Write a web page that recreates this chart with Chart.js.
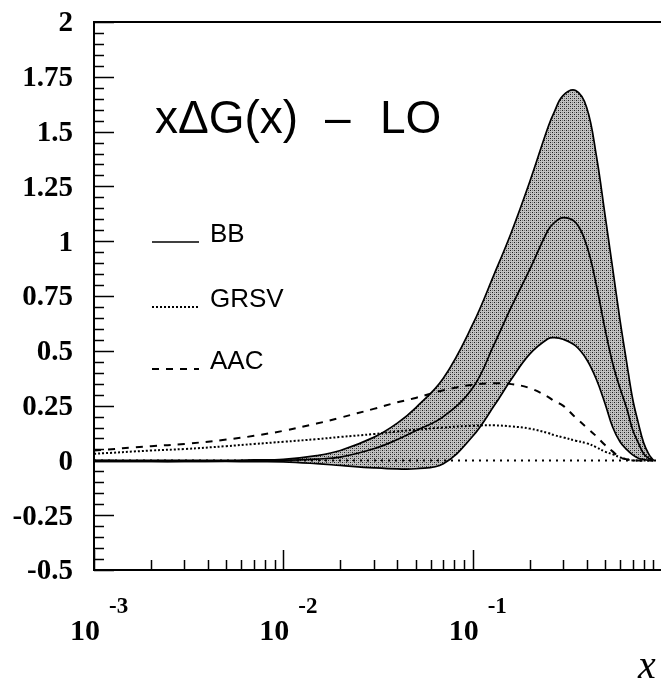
<!DOCTYPE html>
<html>
<head>
<meta charset="utf-8">
<script src="https://cdn.jsdelivr.net/npm/chart.js@4"></script>
<style>
  html, body { margin: 0; padding: 0; background: #fff; overflow: hidden; }
  #wrap { width: 661px; height: 679px; overflow: hidden; }
</style>
</head>
<body>
<div id="wrap"><canvas id="gluon" width="700" height="679"></canvas></div>
<script>
// x grid (log scale) and the LO polarized gluon curves
const xValues = [0.001, 0.002, 0.003, 0.005, 0.007, 0.01, 0.015, 0.02, 0.03, 0.04, 0.05, 0.07,
    0.1, 0.13, 0.16, 0.2, 0.25, 0.27, 0.3, 0.35, 0.4, 0.45, 0.5, 0.55, 0.6, 0.65, 0.7, 0.75, 0.8, 0.85, 0.9]

const bbUpper = [0, 0, 0, 0, 0.002, 0.005, 0.022, 0.045, 0.105, 0.17, 0.24, 0.375,
    0.62, 0.85, 1.04, 1.27, 1.52, 1.59, 1.664, 1.687, 1.61, 1.39, 1.12, 0.87, 0.64, 0.45, 0.28, 0.17, 0.08, 0.03, 0]

const bbCentral = [-0.005, -0.005, -0.005, -0.003, 0, 0, 0.006, 0.015, 0.053, 0.095, 0.135, 0.2,
    0.33, 0.53, 0.70, 0.87, 1.05, 1.085, 1.108, 1.085, 0.98, 0.80, 0.60, 0.44, 0.33, 0.24, 0.14, 0.08, 0.03, 0.01, 0]

const bbLower = [-0.005, -0.005, -0.005, -0.005, -0.006, -0.007, -0.015, -0.023, -0.034, -0.039, -0.038, -0.015,
    0.11, 0.25, 0.37, 0.485, 0.555, 0.56, 0.553, 0.522, 0.46, 0.37, 0.26, 0.15, 0.085, 0.05, 0.025, 0.01, 0.005, 0, 0]

const grsv = [0.03, 0.045, 0.052, 0.065, 0.075, 0.085, 0.097, 0.107, 0.12, 0.132, 0.14, 0.15,
    0.158, 0.16, 0.155, 0.145, 0.125, 0.115, 0.105, 0.09, 0.078, 0.06, 0.04, 0.028, 0.014, 0.005, 0, 0, 0, 0, 0]

const aac = [0.045, 0.065, 0.075, 0.095, 0.112, 0.135, 0.168, 0.195, 0.235, 0.265, 0.285, 0.32,
    0.345, 0.352, 0.348, 0.33, 0.29, 0.27, 0.25, 0.195, 0.15, 0.11, 0.07, 0.04, 0.014, 0.005, 0, 0, 0, 0, 0]

const yTickLabels = ["2", "1.75", "1.5", "1.25", "1", "0.75", "0.5", "0.25", "0", "-0.25", "-0.5"]
const xDecades = [0.001, 0.01, 0.1]
const legendLabels = ["BB", "GRSV", "AAC"]

function points(ys) {
    return xValues.map((x, i) => ({ x: x, y: ys[i] }))
}

// stipple fill for the BB error band
function makeStipple() {
    const c = document.createElement("canvas")
    c.width = 4
    c.height = 4
    const g = c.getContext("2d")
    g.fillStyle = "#c2c2c2"
    g.fillRect(0, 0, 4, 4)
    g.fillStyle = "#1e1e1e"
    g.fillRect(0, 0, 1, 1)
    g.fillRect(2, 2, 1, 1)
    g.fillStyle = "#7a7a7a"
    g.fillRect(2, 0, 1, 1)
    g.fillRect(0, 2, 1, 1)
    return g.createPattern(c, "repeat")
}

const rootFrame = {
    id: "rootFrame",
    beforeDatasetsDraw(chart) {
        const ctx = chart.ctx, a = chart.chartArea
        const y0 = chart.scales.y.getPixelForValue(0)
        ctx.save()
        ctx.strokeStyle = "#000"
        ctx.lineWidth = 2
        ctx.setLineDash([2, 5])
        ctx.beginPath()
        ctx.moveTo(a.left, y0)
        ctx.lineTo(a.right, y0)
        ctx.stroke()
        ctx.restore()
    },
    afterDraw(chart) {
        const ctx = chart.ctx, a = chart.chartArea
        const xs = chart.scales.x, ys = chart.scales.y
        ctx.save()
        ctx.strokeStyle = "#000"
        ctx.fillStyle = "#000"

        // frame
        ctx.lineWidth = 2
        ctx.beginPath()
        ctx.moveTo(a.right, a.top)
        ctx.lineTo(a.left, a.top)
        ctx.lineTo(a.left, a.bottom)
        ctx.lineTo(a.right, a.bottom)
        ctx.stroke()

        // y ticks every 0.05, long ones every 0.25
        ctx.lineWidth = 1.5
        ctx.beginPath()
        for (let i = 0; i <= 50; i++) {
            const v = -0.5 + i * 0.05
            const py = Math.round(ys.getPixelForValue(v)) + 0.5
            const len = i % 5 == 0 ? 20 : 10
            ctx.moveTo(a.left, py)
            ctx.lineTo(a.left + len, py)
        }
        // x ticks on the log axis
        for (let d = -3; d <= -1; d++) {
            for (let m = 1; m <= 9; m++) {
                const px = Math.round(xs.getPixelForValue(m * Math.pow(10, d))) + 0.5
                const len = m == 1 ? 20 : 10
                ctx.moveTo(px, a.bottom)
                ctx.lineTo(px, a.bottom - len)
            }
        }
        ctx.stroke()

        // y tick labels
        ctx.font = "bold 29px 'Liberation Serif'"
        ctx.textAlign = "right"
        ctx.textBaseline = "middle"
        yTickLabels.forEach((t) => {
            ctx.fillText(t, 73, ys.getPixelForValue(parseFloat(t)) + 2)
        })

        // x decade labels 10^n
        ctx.textBaseline = "alphabetic"
        xDecades.forEach((v) => {
            const px = xs.getPixelForValue(v)
            ctx.font = "bold 30px 'Liberation Serif'"
            ctx.textAlign = "center"
            ctx.fillText("10", px - 9, 640)
            ctx.font = "bold 23px 'Liberation Serif'"
            ctx.textAlign = "left"
            ctx.fillText(String(Math.round(Math.log10(v))), px + 15, 613)
        })

        // axis title
        ctx.font = "italic 40px 'Liberation Serif'"
        ctx.textAlign = "left"
        ctx.fillText("x", 638, 678)

        // plot label
        ctx.font = "46px 'Liberation Sans'"
        ctx.fillText("x\u0394G(x)", 155, 133)
        ctx.fillText("\u2013", 325, 133)
        ctx.fillText("LO", 380, 133)

        // legend
        const styles = [
            { dash: [], width: 1.5 },
            { dash: [2, 2], width: 2 },
            { dash: [7, 7], width: 2 }
        ]
        const baselines = [242, 307, 369]
        ctx.font = "26px 'Liberation Sans'"
        legendLabels.forEach((label, i) => {
            ctx.lineWidth = styles[i].width
            ctx.setLineDash(styles[i].dash)
            ctx.beginPath()
            ctx.moveTo(152, baselines[i])
            ctx.lineTo(199, baselines[i])
            ctx.stroke()
            ctx.fillText(label, 210, baselines[i])
        })
        ctx.restore()
    }
}

const lineBase = {
    borderColor: "#000",
    pointRadius: 0,
    tension: 0.4,
    fill: false
}

new Chart(document.getElementById("gluon"), {
    type: "line",
    data: {
        datasets: [
            Object.assign({}, lineBase, { label: "BB lower", data: points(bbLower), borderWidth: 1.7 }),
            Object.assign({}, lineBase, {
                label: "BB upper", data: points(bbUpper), borderWidth: 1.7,
                fill: 0, backgroundColor: makeStipple()
            }),
            Object.assign({}, lineBase, { label: "BB", data: points(bbCentral), borderWidth: 1.7 }),
            Object.assign({}, lineBase, { label: "GRSV", data: points(grsv), borderWidth: 2, borderDash: [2, 2] }),
            Object.assign({}, lineBase, { label: "AAC", data: points(aac), borderWidth: 2, borderDash: [7, 7] })
        ]
    },
    options: {
        responsive: false,
        animation: false,
        layout: { padding: { left: 94, top: 22, right: 38, bottom: 109 } },
        plugins: {
            legend: { display: false },
            tooltip: { enabled: false },
            filler: { drawTime: "beforeDatasetsDraw" }
        },
        scales: {
            x: { type: "logarithmic", min: 0.001, max: 1, display: false },
            y: { type: "linear", min: -0.5, max: 2, display: false }
        }
    },
    plugins: [rootFrame]
})
</script>
</body>
</html>
